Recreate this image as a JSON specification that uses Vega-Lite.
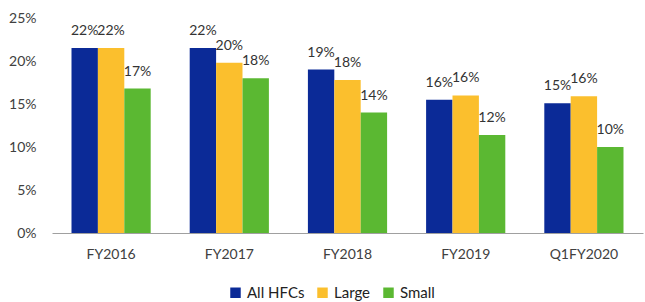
{
  "$schema": "https://vega.github.io/schema/vega-lite/v6.json",
  "width": 591,
  "height": 215,
  "autosize": "none",
  "padding": {"left": 52, "top": 18, "right": 2, "bottom": 69},
  "background": "white",
  "config": {"view": {"stroke": null}, "font": "Lato"},
  "data": {"values": [
    {"period": "FY2016", "series": "All HFCs", "value": 21.5, "label": "22%"},
    {"period": "FY2016", "series": "Large", "value": 21.5, "label": "22%"},
    {"period": "FY2016", "series": "Small", "value": 16.8, "label": "17%"},
    {"period": "FY2017", "series": "All HFCs", "value": 21.5, "label": "22%"},
    {"period": "FY2017", "series": "Large", "value": 19.8, "label": "20%"},
    {"period": "FY2017", "series": "Small", "value": 18.0, "label": "18%"},
    {"period": "FY2018", "series": "All HFCs", "value": 19.0, "label": "19%"},
    {"period": "FY2018", "series": "Large", "value": 17.8, "label": "18%"},
    {"period": "FY2018", "series": "Small", "value": 14.0, "label": "14%"},
    {"period": "FY2019", "series": "All HFCs", "value": 15.5, "label": "16%"},
    {"period": "FY2019", "series": "Large", "value": 16.0, "label": "16%"},
    {"period": "FY2019", "series": "Small", "value": 11.4, "label": "12%"},
    {"period": "Q1FY2020", "series": "All HFCs", "value": 15.1, "label": "15%"},
    {"period": "Q1FY2020", "series": "Large", "value": 15.9, "label": "16%"},
    {"period": "Q1FY2020", "series": "Small", "value": 10.0, "label": "10%"}
  ]},
  "encoding": {
    "x": {"field": "period", "type": "nominal", "sort": null,
      "scale": {"paddingInner": 0.33, "paddingOuter": 0.165},
      "axis": {"title": null, "labelAngle": 0, "ticks": false, "domainColor": "#a0a0a0", "labelColor": "#404040", "labelFontSize": 14, "labelPadding": 14}},
    "xOffset": {"field": "series", "type": "nominal", "sort": ["All HFCs", "Large", "Small"], "scale": {"paddingInner": 0, "paddingOuter": 0}},
    "y": {"field": "value", "type": "quantitative",
      "scale": {"domain": [0, 25]},
      "axis": {"title": null, "values": [0, 5, 10, 15, 20, 25], "labelExpr": "datum.value + '%'", "grid": false, "ticks": false, "domain": false, "labelColor": "#404040", "labelFontSize": 14, "labelPadding": 16}}
  },
  "layer": [
    {
      "mark": {"type": "bar"},
      "encoding": {
        "color": {"field": "series", "type": "nominal", "sort": ["All HFCs", "Large", "Small"],
          "scale": {"domain": ["All HFCs", "Large", "Small"], "range": ["#0B2A97", "#FBBF2D", "#5BB832"]},
          "legend": {"title": null, "orient": "none", "direction": "horizontal", "legendX": 176, "legendY": 267, "symbolType": "square", "symbolSize": 110, "labelFontSize": 15, "labelColor": "#222", "columnPadding": 10, "symbolStrokeWidth": 0}}
      }
    },
    {
      "mark": {"type": "text", "baseline": "bottom", "dy": -10, "fontSize": 14, "color": "#333"},
      "encoding": {"text": {"field": "label"}}
    }
  ]
}
